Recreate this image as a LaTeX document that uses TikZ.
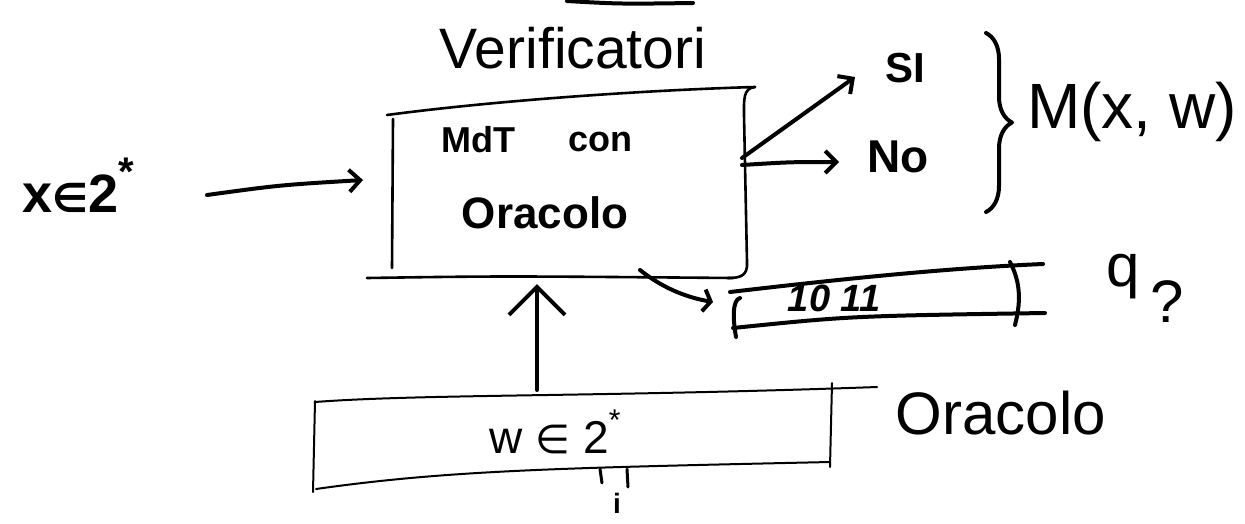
\documentclass[tikz,border=0pt]{standalone}
\usepackage{fontspec}
\setmainfont{Liberation Sans}
\newfontfamily\symfont{DejaVu Sans}
\usetikzlibrary{arrows.meta,decorations.pathreplacing}
\begin{document}
\begin{tikzpicture}[x=1pt,y=-1pt,
  ink/.style={line width=2.6pt,line cap=round,line join=round},
  thinink/.style={line width=2pt,line cap=round,line join=round},
  thick ink/.style={line width=4pt,line cap=round,line join=round},
  arr/.style={thick ink,-{Straight Barb[length=11pt,width=22pt,line width=4pt]}},
  lab/.style={inner sep=0pt,anchor=center},
  hidden/.style={draw=none,inner sep=0pt}]
\useasboundingbox (0,0) rectangle (1245,523);
% ---------- stroke at top ----------
\coordinate (topA) at (567,1);
\coordinate (topB) at (693,3);
\draw[thick ink] (topA) .. controls (620,4) .. (topB);
% ---------- title ----------
\node[lab,font=\fontsize{57}{62}\selectfont] (title) at (573,48) {Verificatori};
% ---------- main machine box ----------
\node[hidden,minimum width=352pt,minimum height=160pt] (tm) at (568,190) {};
\draw[ink] (387,115) .. controls (500,100) and (650,90) .. (755,87);
\draw[ink] (755,87) .. controls (743,88) and (744,100) .. (744,115) -- (747,262) .. controls (748,276) and (740,278) .. (728,278);
\draw[ink] (393,119) -- (392,268);
\draw[ink] (367,278) .. controls (500,276) .. (733,278);
\node[lab,font=\bfseries\fontsize{36}{40}\selectfont] (mdt) at (478,140) {MdT};
\node[lab,font=\bfseries\fontsize{36}{40}\selectfont] (con) at (600,142) {con};
\node[lab,font=\bfseries\fontsize{44}{48}\selectfont] (orac) at (545,213) {Oracolo};
% ---------- input ----------
\node[lab,font=\bfseries\fontsize{54}{58}\selectfont] (xin) at (78,185) {x{\symfont\fontsize{40}{44}\selectfont ∈}2\raisebox{0.5em}{\fontsize{40}{44}\selectfont *}};
\coordinate (xs) at (207,195);
\coordinate (xe) at (363,180);
\draw[arr] (xs) .. controls (280,185) .. (xe);
% ---------- outputs ----------
\coordinate (outS) at (742,158);
\coordinate (outN) at (742,165);
\coordinate (siE) at (855,77);
\coordinate (noE) at (839,162);
\draw[arr] (outS) -- (siE);
\draw[arr] (outN) .. controls (790,162) .. (noE);
\node[lab,font=\bfseries\fontsize{42}{46}\selectfont] (si) at (905,68) {SI};
\node[lab,font=\bfseries\fontsize{46}{50}\selectfont] (no) at (898,157) {No};
\coordinate (brT) at (986,33);
\coordinate (brB) at (986,212);
\draw[thick ink,decorate,decoration={brace,amplitude=26pt}] (brT) -- (brB);
\node[lab,font=\fontsize{64}{70}\selectfont] (mxw) at (1132,112) {M(x, w)};
% ---------- query tape ----------
\coordinate (qs) at (640,270);
\coordinate (qe) at (713,302);
\draw[arr,-{Straight Barb[length=7pt,width=22pt,line width=4pt]}] (qs) .. controls (665,290) and (690,298) .. (qe);
\node[hidden,minimum width=300pt,minimum height=45pt] (tape) at (885,298) {};
\draw[thick ink] (730,292) .. controls (850,278) and (950,268) .. (1043,264);
\draw[thick ink] (733,328) .. controls (850,316) .. (1045,313);
\draw[thick ink] (740,298) .. controls (732,300) and (733,320) .. (736,337);
\draw[thick ink] (1010,262) .. controls (1022,285) and (1020,305) .. (1015,325);
\node[lab,font=\bfseries\fontsize{38}{42}\selectfont\itshape] (bits) at (834,298) {10 11};
\node[lab,font=\fontsize{60}{64}\selectfont] (q) at (1123,277) {q};
\node[lab,font=\fontsize{60}{64}\selectfont] (qm) at (1167,302) {?};
% ---------- oracle tape ----------
\node[hidden,minimum width=515pt,minimum height=80pt] (ora) at (572,440) {};
\draw[thinink] (315,402) .. controls (420,394) and (600,397) .. (877,387);
\draw[thinink] (316,489) .. controls (450,470) and (560,468) .. (830,462);
\draw[thinink] (315,401) -- (313,492);
\draw[thinink] (832,383) -- (830,467);
\node[lab,font=\fontsize{46}{50}\selectfont] (wlab) at (555,432) {w {\symfont\fontsize{40}{44}\selectfont ∈} 2\raisebox{0.5em}{\fontsize{30}{32}\selectfont *}};
\draw[thinink,line width=3pt] (600,469) -- (602,483);
\draw[thinink,line width=3pt] (627,469) -- (628,487);
\node[lab,font=\bfseries\fontsize{28}{30}\selectfont] (ilab) at (617,503) {i};
\node[lab,font=\fontsize{60}{64}\selectfont] (oraclab) at (1001,413) {Oracolo};
% ---------- oracle answer to machine ----------
\coordinate (up0) at (537,390);
\coordinate (up1) at (537,284);
\draw[thick ink,-{Straight Barb[length=28pt,width=56pt,line width=4pt]}] (up0) -- (up1);
\end{tikzpicture}
\end{document}
